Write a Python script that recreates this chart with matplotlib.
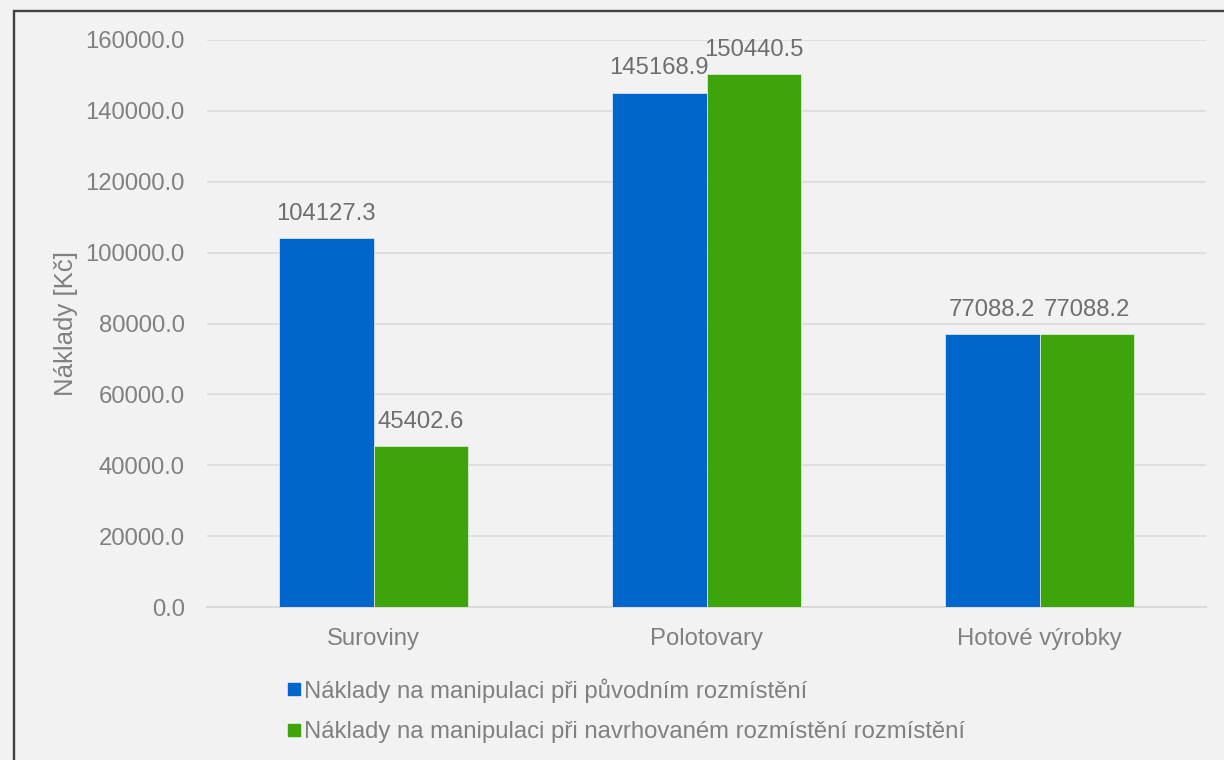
import matplotlib
matplotlib.use("Agg")
import matplotlib.pyplot as plt
from matplotlib.lines import Line2D
from matplotlib.patches import Rectangle
import numpy as np

categories = ["Suroviny", "Polotovary", "Hotové výrobky"]
original = [104127.3, 145168.9, 77088.2]
proposed = [45402.6, 150440.5, 77088.2]
series_names = ["Náklady na manipulaci při původním rozmístění",
                "Náklady na manipulaci při navrhovaném rozmístění rozmístění"]
y_ticks = [0, 20000, 40000, 60000, 80000, 100000, 120000, 140000, 160000]
y_label = "Náklady [Kč]"

BLUE = "#0066CC"
GREEN = "#3EA40B"
BG = "#F2F2F2"
TICK = "#808080"
VAL = "#6E6E6E"
FS = 17.2

plt.rcParams['font.family'] = ['Liberation Sans', 'DejaVu Sans']

W, H = 1224, 760
fig = plt.figure(figsize=(W / 100, H / 100), dpi=100, facecolor=BG)
ax = fig.add_axes([207 / W, 1 - 607 / H, (1206 - 207) / W, (607 - 40) / H])
ax.set_facecolor(BG)

x = np.arange(len(categories))
bw = 0.285
b1 = ax.bar(x - bw / 2, original, bw, color=BLUE, edgecolor="#E6EEF8", linewidth=0.5, zorder=3)
b2 = ax.bar(x + bw / 2, proposed, bw, color=GREEN, edgecolor="#E6F2E0", linewidth=0.5, zorder=3)

for bars, vals in ((b1, original), (b2, proposed)):
    for rect, v in zip(bars, vals):
        ax.annotate(f"{v:.1f}", (rect.get_x() + rect.get_width() / 2, v),
                    xytext=(0, 17.5), textcoords="offset points",
                    ha="center", va="center", fontsize=FS, color=VAL,
                    annotation_clip=False)

ax.set_xlim(-0.5, len(categories) - 0.5)
ax.set_ylim(0, 160000)
ax.set_yticks(y_ticks)
ax.set_yticklabels([f"{t:.1f}" for t in y_ticks])
ax.set_xticks(x)
ax.set_xticklabels(categories)
ax.tick_params(axis="y", length=0, pad=16, labelsize=FS, labelcolor=TICK)
ax.tick_params(axis="x", length=0, pad=15, labelsize=FS, labelcolor=TICK)
ax.grid(axis="y", color="#DDDDDD", linewidth=1.3, zorder=0)
ax.set_axisbelow(True)
for s in ("top", "right", "left"):
    ax.spines[s].set_visible(False)
ax.spines["bottom"].set_color("#D9D9D9")
ax.spines["bottom"].set_linewidth(1.3)

ax.set_ylabel(y_label, fontsize=18.5, color=TICK)
ax.yaxis.set_label_coords(-0.129, 0.5)

handles = [Line2D([], [], marker="s", linestyle="none", markersize=8.6, color=BLUE),
           Line2D([], [], marker="s", linestyle="none", markersize=8.6, color=GREEN)]
leg = fig.legend(handles, series_names, loc="upper left",
                 bbox_to_anchor=(288 / W, 1 - 678 / H),
                 frameon=False, handlelength=0.5, handletextpad=0.15,
                 labelspacing=0.78, borderpad=0, borderaxespad=0,
                 prop={'size': FS})
for t in leg.get_texts():
    t.set_color(TICK)

border = Rectangle((14 / W, -0.1), 1.2, 1 - 11 / H + 0.1, transform=fig.transFigure,
                   fill=False, edgecolor="#404040", linewidth=1.7, zorder=10)
fig.patches.append(border)

fig.savefig("out.png", dpi=100, facecolor=BG)
